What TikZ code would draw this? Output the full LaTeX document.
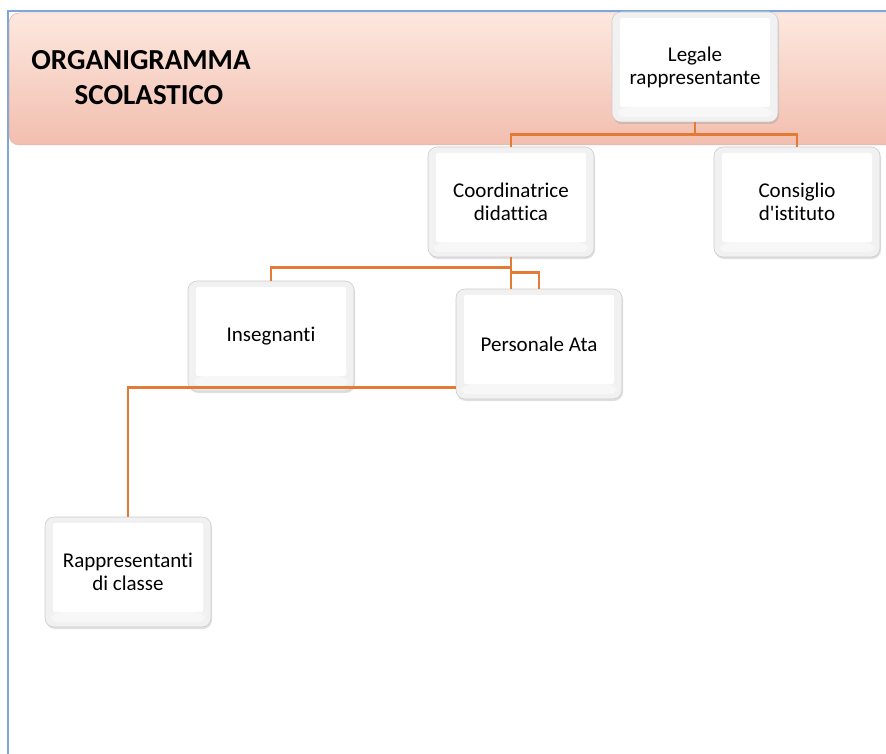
\documentclass[tikz,border=0pt]{standalone}
\usepackage{fontspec}
\newfontfamily\carl{Carlito}[RawFeature=-liga]
\usetikzlibrary{shadows}
\definecolor{conn}{HTML}{E47B34}
\definecolor{frameblue}{HTML}{7EA6D8}
\definecolor{bantop}{HTML}{FDE8DF}
\definecolor{banbot}{HTML}{F2BEAF}
\tikzset{
  orgbox/.style={rounded corners=9pt, minimum width=166pt, minimum height=110pt,
    fill=gray!11, draw=gray!40, line width=0.6pt,
    drop shadow={shadow xshift=1pt, shadow yshift=-2pt, opacity=0.25},
    path picture={
      \fill[white, rounded corners=2pt] ([xshift=8pt,yshift=-6pt]path picture bounding box.north west) rectangle ([xshift=-8pt,yshift=15pt]path picture bounding box.south east);
      \fill[gray!6] ([xshift=8pt,yshift=15pt]path picture bounding box.south west) -- ([xshift=-8pt,yshift=15pt]path picture bounding box.south east) -- ([xshift=-3pt,yshift=5pt]path picture bounding box.south east) -- ([xshift=3pt,yshift=5pt]path picture bounding box.south west) -- cycle;
    },
    align=center, font=\carl\fontsize{21}{23}\selectfont, text=black},
  link/.style={draw=conn, line width=2.8pt}
}
\begin{document}
\begin{tikzpicture}[x=1pt,y=-1pt]
\useasboundingbox (0,0) rectangle (886,754);
% outer frame
\draw[frameblue, line width=1.2pt] (886,11) -- (8,11) -- (8,756);
% banner
\shade[top color=bantop, bottom color=banbot, rounded corners=10pt, draw=banbot!85!gray, line width=0.5pt]
  (9,13) rectangle (900,145);
\node[align=center, font=\carl\fontsize{29}{35}\selectfont\bfseries] (title) at (141,78) {ORGANIGRAMMA\\\hspace*{16pt}SCOLASTICO};
% boxes
\node[orgbox] (leg) at (695,67) {Legale\\rappresentante};
\node[orgbox] (coo) at (511,202) {Coordinatrice\\didattica};
\node[orgbox] (con) at (797,202) {Consiglio\\d\char39 istituto};
\node[orgbox] (ins) at (271,336) {Insegnanti};
\node[orgbox] (pers) at (539,344) {Personale Ata};
\node[orgbox] (rap) at (128,572) {Rappresentanti\\di classe};
% connectors
\draw[link] (leg.south) -- ++(0,12) -| (coo.north);
\draw[link] (leg.south) -- ++(0,12) -| (con.north);
\draw[link] (coo.south) -- ++(0,10) -| (ins.north);
\draw[link] (coo.south) -- (coo.south |- pers.north);
\draw[link] (coo.south) -- ++(0,15) -| (pers.north);
\draw[link] ([yshift=12pt]pers.south west) -| (rap.north);
\end{tikzpicture}
\end{document}
